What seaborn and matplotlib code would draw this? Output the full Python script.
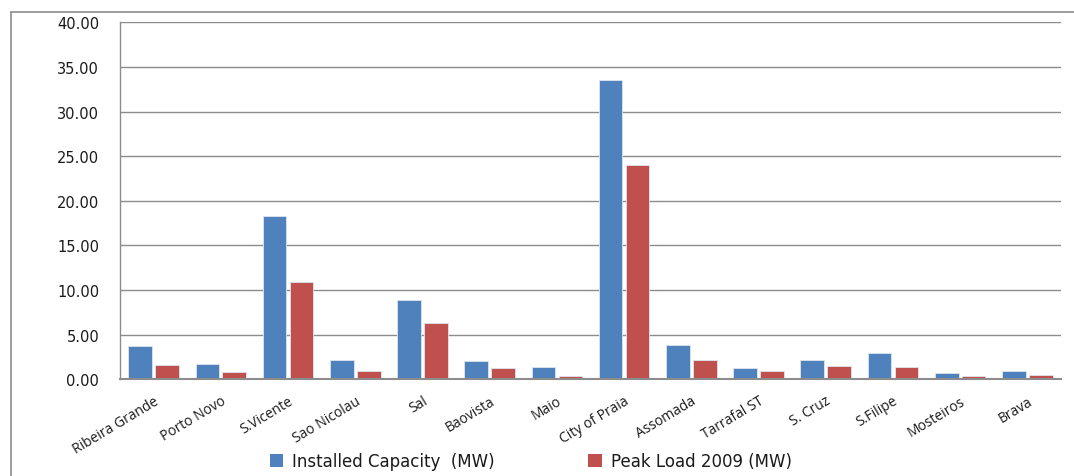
import matplotlib
matplotlib.use("Agg")
import matplotlib.pyplot as plt
import seaborn as sns
import pandas as pd
from matplotlib.patches import Patch
from matplotlib.lines import Line2D

categories = ["Ribeira Grande", "Porto Novo", "S.Vicente", "Sao Nicolau", "Sal",
              "Baovista", "Maio", "City of Praia", "Assomada", "Tarrafal ST",
              "S. Cruz", "S.Filipe", "Mosteiros", "Brava"]
installed = [3.72, 1.72, 18.33, 2.13, 8.92, 2.02, 1.34, 33.54, 3.84, 1.23, 2.16, 2.95, 0.71, 0.96]
peak = [1.61, 0.82, 10.87, 0.93, 6.31, 1.23, 0.40, 24.01, 2.16, 0.93, 1.49, 1.34, 0.34, 0.48]
series_names = ["Installed Capacity  (MW)", "Peak Load 2009 (MW)"]
yticks = [0, 5, 10, 15, 20, 25, 30, 35, 40]

df = pd.DataFrame({
    "category": categories * 2,
    "value": installed + peak,
    "series": [series_names[0]] * len(categories) + [series_names[1]] * len(categories),
})

sns.set_theme(style="white")
plt.rcParams["font.family"] = ["DejaVu Sans"]

colors = ["#4F81BD", "#C0504D"]
fig = plt.figure(figsize=(10.74, 4.77), dpi=100)
ax = fig.add_axes([120 / 1074, 1 - 380.3 / 477, (1061 - 120) / 1074, (380.3 - 23.3) / 477])

sns.barplot(data=df, x="category", y="value", hue="series", palette=colors,
            order=categories, hue_order=series_names, width=0.8, gap=0.12,
            saturation=1, ax=ax, legend=False, edgecolor="#dfe6f0", linewidth=0.6)

ax.set_ylim(0, 40)
ax.set_xlim(-0.5, len(categories) - 0.5)
ax.set_yticks(yticks)
ax.set_yticklabels([f"{v:.2f}" for v in yticks], fontsize=10.5, color="#1a1a1a")
ax.tick_params(axis="y", length=0, pad=15)
ax.tick_params(axis="x", length=0, pad=10)
ax.set_xticks(range(len(categories)))
ax.set_xticklabels(categories, rotation=31, ha="right", rotation_mode="anchor",
                   fontsize=10, family="Open Sans", color="#1a1a1a")
ax.set_xlabel("")
ax.set_ylabel("")
ax.yaxis.grid(True, color="#8c8c8c", linewidth=1.0)
ax.set_axisbelow(True)
for s in ["top", "right"]:
    ax.spines[s].set_visible(False)
ax.spines["left"].set_color("#8c8c8c")
ax.spines["bottom"].set_color("#8c8c8c")
ax.spines["left"].set_linewidth(1.0)
ax.spines["bottom"].set_linewidth(1.5)

# outer chart border
fig.add_artist(Line2D([11 / 1074, 1.0], [1 - 13 / 477, 1 - 13 / 477],
                      transform=fig.transFigure, color="#8c8c8c", linewidth=1.2))
fig.add_artist(Line2D([11 / 1074, 11 / 1074], [0, 1 - 13 / 477],
                      transform=fig.transFigure, color="#8c8c8c", linewidth=1.2))

handles = [Patch(facecolor=c, edgecolor="none") for c in colors]
fig.legend(handles, series_names, loc="center left", bbox_to_anchor=(270 / 1074, 1 - 462 / 477),
           ncol=2, frameon=False, fontsize=12, handlelength=0.8, handleheight=0.8,
           handletextpad=0.55, columnspacing=5.6, borderpad=0, borderaxespad=0,
           labelcolor="#1a1a1a")

fig.savefig("out.png", dpi=100)
